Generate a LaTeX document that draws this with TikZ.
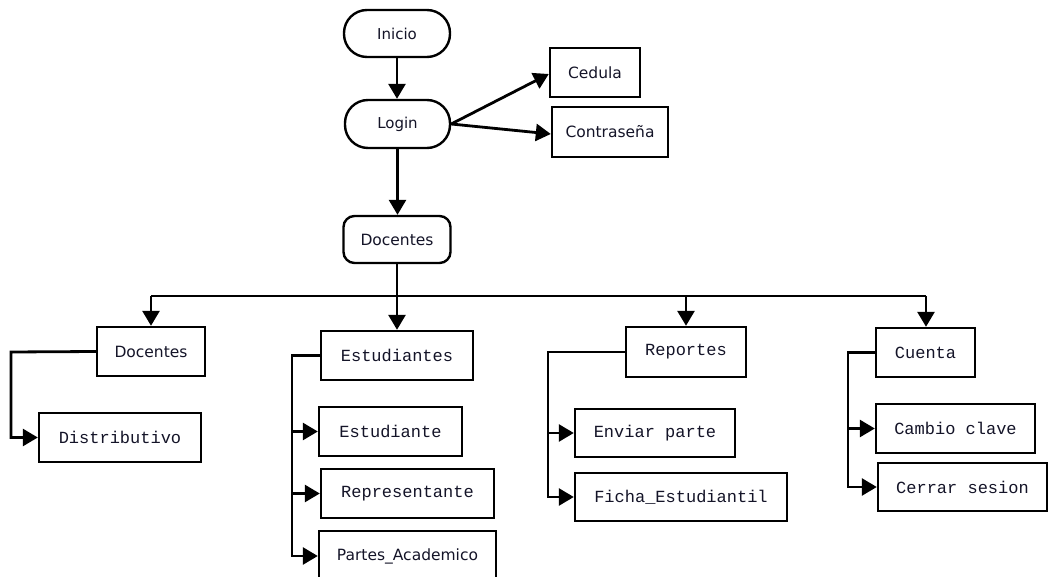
\documentclass[tikz,border=0pt]{standalone}
\usepackage{fontspec}
\setmainfont{DejaVu Sans}
\newfontfamily\monof{Liberation Mono}
\usetikzlibrary{arrows.meta,calc}
\definecolor{txt}{RGB}{20,20,40}
\tikzset{
  base/.style={draw=black, line width=2.4pt, inner sep=0pt, text=txt, align=center},
  stad/.style={base, rounded corners=23pt, font=\fontsize{15}{17}\selectfont},
  rbox/.style={base, rounded corners=11pt, font=\fontsize{15.5}{17}\selectfont},
  sbox/.style={base, font=\fontsize{15.5}{17}\selectfont},
  mbox/.style={base, font=\monof\fontsize{17}{19}\selectfont},
  arr/.style={line width=2.8pt, -{Triangle[length=15pt,width=17pt]}},
  ln/.style={line width=2.8pt}
}
\begin{document}
\begin{tikzpicture}[x=1pt,y=-1pt]
\useasboundingbox (0,0) rectangle (1050,577);
\clip (0,0) rectangle (1050,577);
\fill[white] (0,0) rectangle (1050,577);
% top
\node[stad, minimum width=106pt, minimum height=47pt] (ini) at (397,33.5) {Inicio};
\node[stad, minimum width=105pt, minimum height=48pt] (log) at (397.5,124) {Login};
\node[rbox, minimum width=107pt, minimum height=47pt] (doc) at (397,239.5) {Docentes};
\node[sbox, minimum width=90pt, minimum height=49pt] (ced) at (595,72.5) {Cedula};
\node[sbox, minimum width=116pt, minimum height=50pt] (con) at (610,132) {Contraseña};
% level 2
\node[sbox, minimum width=108pt, minimum height=49pt] (docs) at (151,351.5) {Docentes};
\node[mbox, minimum width=152pt, minimum height=49pt] (est) at (397,355.5) {Estudiantes};
\node[mbox, minimum width=120pt, minimum height=50pt] (rep) at (686,352) {Reportes};
\node[mbox, minimum width=99pt, minimum height=49pt] (cue) at (925.5,352.5) {Cuenta};
% level 3
\node[mbox, minimum width=162pt, minimum height=49pt] (dis) at (120,437.5) {Distributivo};
\node[mbox, minimum width=143pt, minimum height=49pt] (estd) at (390.5,431.5) {Estudiante};
\node[mbox, minimum width=173pt, minimum height=49pt] (repr) at (407.5,493.5) {Representante};
\node[sbox, minimum width=177pt, minimum height=50pt] (par) at (407.5,556) {Partes\_Academico};
\node[mbox, minimum width=160pt, minimum height=48pt] (env) at (655,433) {Enviar parte};
\node[mbox, minimum width=212pt, minimum height=48pt] (fic) at (681,497) {Ficha\_Estudiantil};
\node[mbox, minimum width=159pt, minimum height=49pt] (cam) at (955.5,428.5) {Cambio clave};
\node[mbox, minimum width=169pt, minimum height=48pt] (cer) at (962.5,487) {Cerrar sesion};
% connectors top
\draw[arr] (ini.south) -- (ini.south |- log.north);
\draw[arr] (log.south) -- (log.south |- doc.north);
\draw[arr] (log.east) -- ($(ced.west)+(0,1.5)$);
\draw[arr] (log.east) -- ($(con.west)+(0,2)$);
% bus
\coordinate (busL) at (151,296);
\coordinate (busR) at (926,296);
\draw[ln] (busL) -- (busR);
\draw[arr] (doc.south) -- (est.north);
\draw[arr] (busL) -- (docs.north);
\draw[arr] (rep.north |- busL) -- (rep.north);
\draw[arr] (busR) -- (busR |- cue.north);
% sub connectors
\coordinate (b1) at (11,352);
\draw[arr] (docs.west) -- (b1) |- (dis.west);
\coordinate (b2) at (292,355.5);
\draw[arr] (est.west) -- (b2) |- (estd.west);
\draw[arr] (b2) |- (repr.west);
\draw[arr] (b2) |- (par.west);
\coordinate (b3) at (548,352);
\draw[arr] (rep.west) -- (b3) |- (env.west);
\draw[arr] (b3) |- (fic.west);
\coordinate (b4) at (848,352.5);
\draw[arr] (cue.west) -- (b4) |- (cam.west);
\draw[arr] (b4) |- (cer.west);
\end{tikzpicture}
\end{document}
